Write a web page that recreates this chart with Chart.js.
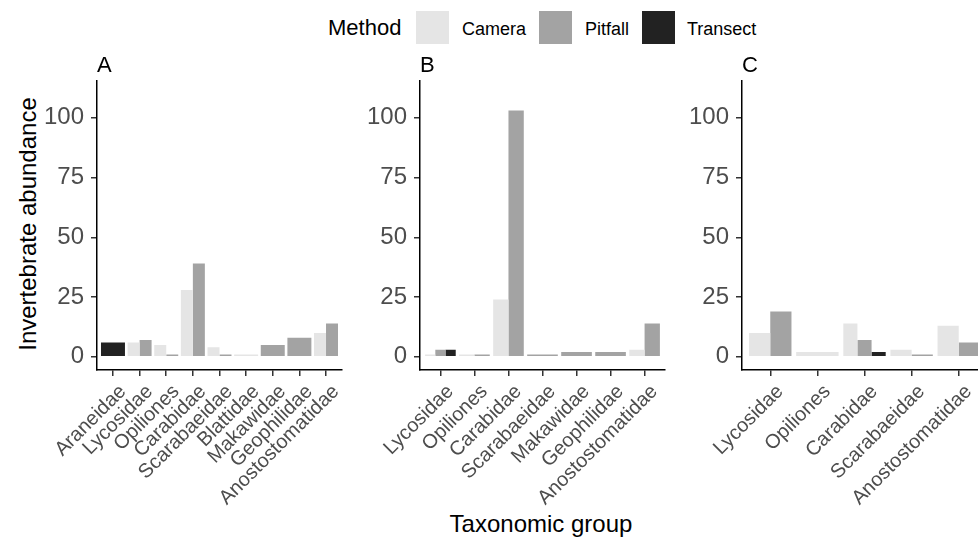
<!DOCTYPE html>
<html>
<head>
<meta charset="utf-8">
<script src="https://cdn.jsdelivr.net/npm/chart.js@4"></script>
<style>
  html, body { margin: 0; padding: 0; background: #fff; }
  body { width: 978px; height: 539px; position: relative; overflow: hidden;
         font-family: "Liberation Sans", Arial, sans-serif; }
  canvas { position: absolute; top: 50px; }
  .txt { position: absolute; white-space: nowrap; color: #000; }
  .sw { position: absolute; top: 11px; width: 33px; height: 33px; }
</style>
</head>
<body>

<div class="txt" style="left:328px; top:17px; font-size:22px; line-height:22px;">Method</div>
<div class="sw" id="sw0" style="left:416px;"></div>
<div class="txt" style="left:462px; top:20px; font-size:18px; line-height:18px;">Camera</div>
<div class="sw" id="sw1" style="left:539px;"></div>
<div class="txt" style="left:585px; top:20px; font-size:18px; line-height:18px;">Pitfall</div>
<div class="sw" id="sw2" style="left:642px;"></div>
<div class="txt" style="left:687px; top:20px; font-size:18px; line-height:18px;">Transect</div>

<div class="txt" style="left:28px; top:224px; font-size:24px; line-height:24px; transform:translate(-50%,-50%) rotate(-90deg);">Invertebrate abundance</div>
<div class="txt" style="left:541px; top:512px; font-size:24px; line-height:24px; transform:translateX(-50%);">Taxonomic group</div>

<canvas id="chartA" width="355" height="489" style="left:17px;"></canvas>
<canvas id="chartB" width="355" height="489" style="left:340px;"></canvas>
<canvas id="chartC" width="355" height="489" style="left:662px;"></canvas>

<script>
// data
const methods = ['Camera', 'Pitfall', 'Transect'];
const methodColors = ['#e5e5e5', '#a3a3a3', '#222222'];
const yTicks = [0, 25, 50, 75, 100];

const catsA = ['Araneidae', 'Lycosidae', 'Opiliones', 'Carabidae', 'Scarabaeidae', 'Blattidae', 'Makawidae', 'Geophilidae', 'Anostostomatidae'];
const cameraA   = [null, 6, 5, 28, 4, 1, null, null, 10];
const pitfallA  = [null, 7, 1, 39, 1, null, 5, 8, 14];
const transectA = [6, null, null, null, null, null, null, null, null];

const catsB = ['Lycosidae', 'Opiliones', 'Carabidae', 'Scarabaeidae', 'Makawidae', 'Geophilidae', 'Anostostomatidae'];
const cameraB   = [1, 1, 24, null, null, null, 3];
const pitfallB  = [3, 1, 103, 1, 2, 2, 14];
const transectB = [3, null, null, null, null, null, null];

const catsC = ['Lycosidae', 'Opiliones', 'Carabidae', 'Scarabaeidae', 'Anostostomatidae'];
const cameraC   = [10, 2, 14, 3, 13];
const pitfallC  = [19, null, 7, 1, 6];
const transectC = [null, null, 2, null, null];

methodColors.forEach((c, i) => { document.getElementById('sw' + i).style.background = c; });

Chart.defaults.font.family = '"Liberation Sans", Arial, sans-serif';

function makePanel(id, letter, cats, series) {
  const canvas = document.getElementById(id);
  // panel letter
  const lab = document.createElement('div');
  lab.className = 'txt';
  lab.textContent = letter;
  lab.style.cssText = 'font-size:22px; line-height:22px; top:54px; left:' + (parseFloat(canvas.style.left) + 80) + 'px;';
  document.body.appendChild(lab);

  const datasets = series.map((vals, m) => ({
    label: methods[m],
    data: vals.map((v, i) => ({ x: i, y: v })),
    backgroundColor: methodColors[m],
    borderWidth: 0,
    skipNull: true,
    categoryPercentage: 0.9,
    barPercentage: 1.0
  }));

  return new Chart(canvas, {
    type: 'bar',
    data: { datasets: datasets },
    options: {
      responsive: false,
      devicePixelRatio: 1,
      animation: false,
      layout: { padding: { top: 30.7, right: 30, left: 0, bottom: 0 } },
      plugins: { legend: { display: false }, tooltip: { enabled: false } },
      scales: {
        x: {
          type: 'linear',
          min: -0.6,
          max: cats.length - 0.4,
          offset: false,
          afterBuildTicks: (s) => { s.ticks = cats.map((c, i) => ({ value: i })); },
          afterFit: (s) => { s.height = 169; },
          border: { display: true, color: '#000', width: 1.5 },
          grid: { display: true, offset: false, drawOnChartArea: false, drawTicks: true, tickLength: 6, color: '#333', lineWidth: 1.5 },
          ticks: {
            autoSkip: false,
            minRotation: 45,
            maxRotation: 45,
            padding: 4,
            labelOffset: 10,
            color: '#4d4d4d',
            font: { size: 20 },
            callback: (v) => cats[v]
          }
        },
        y: {
          min: -5.5,
          max: 115.5,
          afterBuildTicks: (s) => { s.ticks = yTicks.map(v => ({ value: v })); },
          afterFit: (s) => { s.width = 80; },
          border: { display: true, color: '#000', width: 1.5 },
          grid: { display: true, drawOnChartArea: false, drawTicks: true, tickLength: 6, color: '#333', lineWidth: 1.5 },
          ticks: { padding: 7, color: '#4d4d4d', font: { size: 24 } }
        }
      }
    }
  });
}

makePanel('chartA', 'A', catsA, [cameraA, pitfallA, transectA]);
makePanel('chartB', 'B', catsB, [cameraB, pitfallB, transectB]);
makePanel('chartC', 'C', catsC, [cameraC, pitfallC, transectC]);
</script>
</body>
</html>
